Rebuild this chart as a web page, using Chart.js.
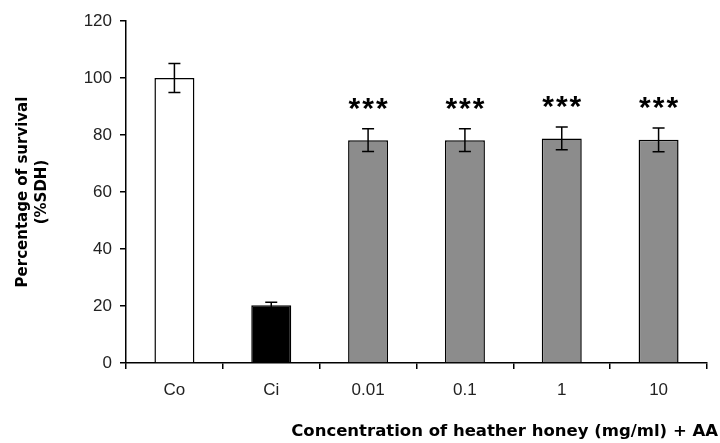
<!DOCTYPE html>
<html>
<head>
<meta charset="utf-8">
<script src="https://cdn.jsdelivr.net/npm/chart.js@4/dist/chart.umd.min.js"></script>
<style>
  html, body { margin: 0; padding: 0; background: #fff; }
  #wrap { width: 720px; height: 443px; }
</style>
</head>
<body>
<div id="wrap"><canvas id="myChart"></canvas></div>
<script>
const categories = ["Co", "Ci", "0.01", "0.1", "1", "10"];
const survival = [100, 20.3, 78.2, 78.2, 78.8, 78.3];
const sdError = [5.1, 1.0, 4.0, 4.0, 4.0, 4.2];
const signif = ["", "", "***", "***", "***", "***"];
const yTicks = [0, 20, 40, 60, 80, 100, 120];
const barColors = ["#ffffff", "#000000", "#8c8c8c", "#8c8c8c", "#8c8c8c", "#8c8c8c"];

const xTitle = "Concentration of heather honey (mg/ml) + AA";

// error bars, stars and the x title drawn on top
const extras = {
  id: "extras",
  afterDatasetsDraw(chart) {
    const ctx = chart.ctx;
    const y = chart.scales.y;
    const meta = chart.getDatasetMeta(0);
    ctx.save();
    ctx.strokeStyle = "#000";
    ctx.lineWidth = 1.5;
    meta.data.forEach((bar, i) => {
      const x = bar.x;
      const top = y.getPixelForValue(survival[i] + sdError[i]);
      const bot = y.getPixelForValue(survival[i] - sdError[i]);
      ctx.beginPath();
      ctx.moveTo(x, top); ctx.lineTo(x, bot);
      ctx.moveTo(x - 6, top); ctx.lineTo(x + 6, top);
      ctx.moveTo(x - 6, bot); ctx.lineTo(x + 6, bot);
      ctx.stroke();
      if (signif[i]) {
        ctx.fillStyle = "#000";
        ctx.font = "bold 30px 'Liberation Sans', Arial, sans-serif";
        ctx.letterSpacing = "2px";
        ctx.textAlign = "center";
        ctx.textBaseline = "alphabetic";
        ctx.fillText(signif[i], x + 1, top - 11);
        ctx.letterSpacing = "0px";
      }
    });
    ctx.fillStyle = "#000";
    ctx.font = "bold 16.5px 'DejaVu Sans', sans-serif";
    ctx.textAlign = "right";
    ctx.textBaseline = "middle";
    ctx.fillText(xTitle, chart.width - 2, 432);
    ctx.restore();
  }
};

const ctx = document.getElementById("myChart");

new Chart(ctx, {
  type: "bar",
  data: {
    labels: categories,
    datasets: [
      {
        data: survival,
        backgroundColor: barColors,
        borderColor: "#000",
        borderWidth: 1.5,
        barPercentage: 0.413,
        categoryPercentage: 1,
      },
    ],
  },
  options: {
    responsive: true,
    maintainAspectRatio: false,
    animation: false,
    layout: { padding: { top: 21, right: 13, left: 0, bottom: 0 } },
    plugins: {
      legend: { display: false },
      tooltip: { enabled: false },
    },
    scales: {
      x: {
        afterFit: (scale) => { scale.height = 80; },
        grid: {
          drawOnChartArea: false,
          offset: true,
          color: "#000",
          tickLength: 6,
          lineWidth: 1.5,
        },
        border: { color: "#000", width: 1.5 },
        ticks: {
          color: "#222",
          padding: 11,
          font: { family: "'Liberation Sans', Arial, sans-serif", size: 17 },
        },
      },
      y: {
        min: 0,
        max: 120,
        afterFit: (scale) => { scale.width = 126; },
        afterBuildTicks: (scale) => { scale.ticks = yTicks.map(v => ({ value: v })); },
        grid: {
          drawOnChartArea: false,
          color: "#000",
          tickLength: 6,
          lineWidth: 1.5,
        },
        border: { color: "#000", width: 1.5 },
        ticks: {
          color: "#222",
          padding: 8,
          font: { family: "'Liberation Sans', Arial, sans-serif", size: 17 },
        },
        title: {
          display: true,
          text: ["Percentage of survival", "(%SDH)"],
          color: "#000",
          padding: { top: 14, bottom: 0 },
          font: { family: "'DejaVu Sans', sans-serif", size: 15, weight: "bold", lineHeight: 1.25 },
        },
      },
    },
  },
  plugins: [extras],
});
</script>
</body>
</html>
